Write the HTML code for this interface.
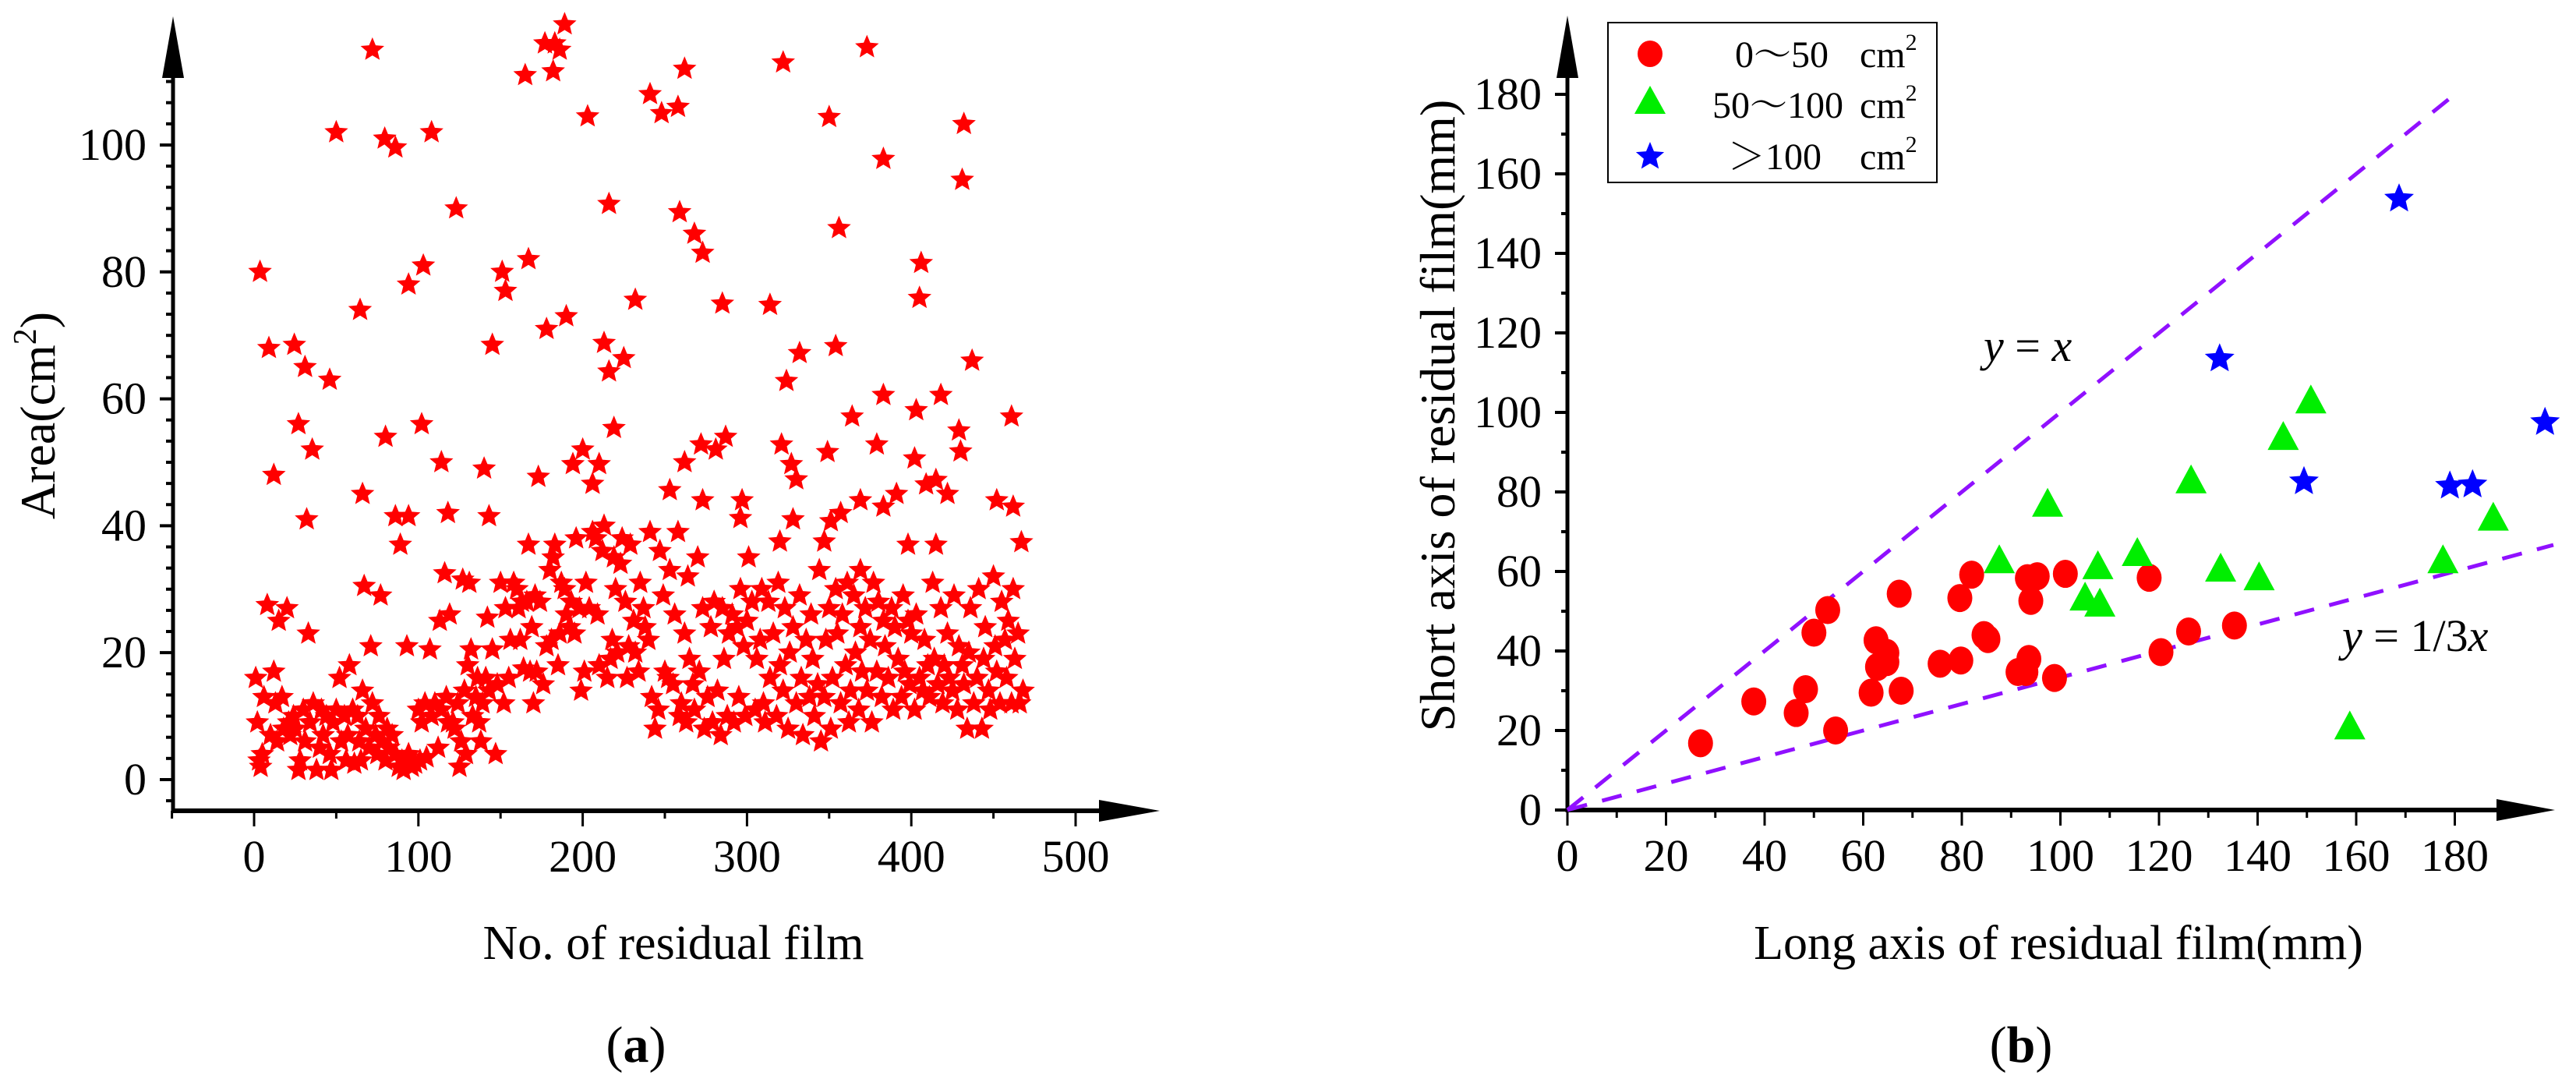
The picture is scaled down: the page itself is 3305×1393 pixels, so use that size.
<!DOCTYPE html>
<html><head><meta charset="utf-8">
<style>
html,body{margin:0;padding:0;background:#fff;}
svg{display:block;}
svg text{font-family:"Liberation Serif","Noto Serif CJK SC",serif;}
</style></head>
<body>
<svg id="fig" width="3305" height="1393" viewBox="0 0 3305 1393" xmlns="http://www.w3.org/2000/svg">
<g id="chartA"></g>
<g id="chartB"></g>
</svg>
<script>
// ---------- Chart (a) data ----------
const areaHighX=[3.6,72,50,79.5,86,108,123,103,94,64.5,9,24.5,31,46,27,35.4,12,32,66,80,102,114,118,86,94,89,140,143,145,151,153,165,167,173,178,177,183,182,186,189,190,203,216,213,216,225,232,219,210,206,194,200,241,248,258,262,259,268,273,262,273,272,281,285,287,253,322,314,324,332,321,327,330,350,373,354,356,349,364,383,383,379,406,405,403,402,418,432,431,437,429,430,461,452,462,409,415,422,391,383,369,357,351,328,296,297,320,347,369,398,415,467];
const areaHighY=[80,115,102,101,99.6,102,90,81,78,74,68,68.5,65,63,56,52,48,41,45,54,56,50,42,41.5,41.5,37,49,41.5,68.5,80,77,111,82,47.7,71,116,116,111.6,115,119,73,104.5,90.7,68.8,64.3,66.4,75.6,55.4,49.7,46.6,49.7,52,108,105,106,112,89.4,86,83,50,44,52.8,52,75,54,45.6,113,74.8,62.8,67.2,52.8,49.7,47.3,104.4,115.4,68.3,86.9,51.6,57.2,97.8,60.6,52.8,81.4,75.9,58.2,50.6,60.6,103.3,94.5,66,55,51.7,57.2,44,43,46.5,47.2,45,45,43,44,42,40.7,41,41.2,44,37.5,37.5,33,37,37,37.4];
const areaLowX=[1,2,3,4,5,6,8,10,12,13,14,15,17,18,20,21,22,24,25,27,28,30,31,33,34,36,38,40,41,42,44,46,47,48,50,52,53,55,56,57,58,60,61,63,64,65,66,67,68,70,71,72,74,75,76,77,78,80,81,82,84,86,88,90,91,93,94,96,98,100,101,102,104,105,107,108,110,112,113,114,116,117,118,119,121,122,124,125,126,127,128,129,130,131,132,133,135,136,137,138,139,141,142,143,145,147,148,150,152,153,155,156,158,160,161,162,163,164,166,167,168,169,170,171,172,174,176,178,180,181,182,183,185,186,187,189,190,192,193,195,196,198,199,201,202,204,206,208,209,210,212,213,215,217,218,219,220,221,223,224,226,227,228,229,231,232,234,235,237,238,240,241,242,244,246,247,249,250,252,253,255,256,258,259,260,262,263,264,265,267,268,270,271,273,274,276,278,279,280,282,284,285,286,288,289,291,292,294,295,296,298,299,300,301,303,305,306,308,309,310,311,313,314,316,318,319,320,322,323,325,326,328,330,332,333,334,336,338,339,340,341,343,344,345,347,348,350,351,352,354,355,357,358,360,361,362,363,365,366,368,369,370,372,373,375,376,377,379,380,382,383,384,386,388,389,390,392,394,395,396,398,399,400,402,403,405,407,408,410,411,413,414,416,418,419,420,422,423,425,426,428,429,431,432,434,435,436,438,440,441,443,444,445,447,448,450,451,452,454,455,457,458,459,461,462,463,465,466,468];
const areaLowY=[16,9,3,2,4,13,27.5,7,17,12,6,25,13,8,27,9,7,10,8,1.5,3,11,6,23,9,12,1.5,5,11,7,10,4,1.5,9,11,16,6,10,3,7,18,11,2.5,10,6,3,14,30.5,8,5,21,12,7,4,10,29,6,3,8,5,7,4,2,3,1.5,21,4,2,2.5,11,3,9,12,3.5,20.5,10,12,5,25,11,32.5,13,9,26,9,8,12,2,6,31.5,14,4,18,31,20.5,10,13,16,9,6,12,16,25.5,14,20.5,4,15,31,12,27,16,22,31,30,27,22,28,17.5,28,37,17,24,12,29,17,28,15,21,33,22,35,37,18,23,31,30,26,24,28,23,38,27,14,17,31,27,39,38,26,18,36,40,16,19,22,35,30,20,34,38,28,16,21,37,25,20,17,31,27,24,22,39,13,8,11,36,29,17,16,33,15,26,39,10,12,23,9,32,19,15,11,35,17,27,8,13,24,9,28,14,7,27,19,10,23,26,9,24,13,30,21,10,25,35,28,11,19,22,30,12,9,28,16,23,10,31,18,14,27,8,20,24,12,29,16,7,22,13,26,19,10,15,33,6,13,22,27,8,16,30,23,12,26,18,31,9,14,29,20,11,24,17,27,14,22,9,31,17,28,13,25,21,16,27,11,24,19,13,29,17,25,15,23,11,26,16,14,22,18,13,31,19,15,27,12,18,23,16,14,29,11,21,18,15,8,20,27,12,16,30,8,19,24,14,11,32,21,17,12,28,22,16,25,12,30,19,23,12,14];
const aXTicks=[0,100,200,300,400,500];
const aYTicks=[0,20,40,60,80,100];

// ---------- Chart (b) data ----------
const smallLong=[27,37.8,46.4,48.3,50,52.8,54.4,61.6,62.6,62.9,64.8,64.8,67.3,67.7,75.6,79.8,79.6,82,84.5,85.3,91.4,93,93.6,94,93.3,95.3,98.8,101,118,120.4,126,135.3];
const smallShort=[16.8,27.3,24.4,30.4,44.6,50.3,20,29.5,42.7,36,39.5,37.2,54.4,30,36.8,37.6,53.3,59.2,44,43,34.7,34.7,38,52.6,58.3,58.8,33.2,59.4,58.4,39.7,44.9,46.4];
const midLong=[87.6,97.4,105,107.6,108,115.6,126.5,132.5,140.3,145.2,150.8,158.7,177.6,187.8];
const midShort=[62.7,76.9,53.3,61.2,51.8,64.5,82.8,60.6,58.4,93.7,102.9,20.9,62.7,73.4];
const bigLong=[132.3,149.4,168.7,179,183.6,198.3];
const bigShort=[113.5,82.6,153.7,81.5,81.8,97.5];
const bXTicks=[0,20,40,60,80,100,120,140,160,180];
const bYTicks=[0,20,40,60,80,100,120,140,160,180];

const NS="http://www.w3.org/2000/svg";
const SERIF='"Liberation Serif","Noto Serif CJK SC",serif';
function mk(parent,tag,attrs){const e=document.createElementNS(NS,tag);for(const k in attrs)e.setAttribute(k,attrs[k]);if(tag==='text')e.setAttribute('font-family',SERIF);parent.appendChild(e);return e;}
function starPts(cx,cy,R){const r=R*0.45;let p=[];for(let i=0;i<10;i++){const a=-Math.PI/2+i*Math.PI/5;const rr=i%2?r:R;p.push((cx+rr*Math.cos(a)).toFixed(1)+","+(cy+rr*Math.sin(a)).toFixed(1));}return p.join(" ");}

// ---------- Chart (a) ----------
const A=document.getElementById('chartA');
const xA=v=>326+v*2.108;
const yA=v=>1000-v*8.14;
let g=mk(A,'g',{});


let e=mk(g,'line',{x1:222,y1:1042,x2:222,y2:96,stroke:'#000','stroke-width':5});
e=mk(g,'polygon',{points:'208,100 236,100 222,21',fill:'#000'});
for(let v=-3.33;v<=112;v+=20/6){const y=yA(v);const maj=Math.abs(Math.round(v/20)*20-v)<0.1;
 e=mk(g,'line',{x1:maj?205:213,y1:y,x2:222,y2:y,stroke:'#000','stroke-width':4});}
aYTicks.forEach(t=>{e=mk(g,'text',{x:188,y:yA(t)+19,'text-anchor':'end','font-size':58,fill:'#000'});e.textContent=t;
 
 });
g=mk(A,'g',{});


e=mk(g,'line',{x1:220,y1:1040,x2:1420,y2:1040,stroke:'#000','stroke-width':6});
e=mk(g,'polygon',{points:'1410,1026 1410,1054 1488,1040',fill:'#000'});
for(let v=-50;v<=500;v+=50){const x=xA(v);const maj=v%100===0;
 e=mk(g,'line',{x1:x,y1:1040,x2:x,y2:maj?1060:1050,stroke:'#000','stroke-width':3});}
aXTicks.forEach(t=>{e=mk(g,'text',{x:xA(t),y:1118,'text-anchor':'middle','font-size':58,fill:'#000'});e.textContent=t;
 
 });
g=mk(A,'g',{fill:'#ff0000'});


function drawA(xs,ys){for(let i=0;i<xs.length;i++){e=mk(g,'polygon',{points:starPts(xA(xs[i]),yA(ys[i]),16)});
 
 }}
drawA(areaLowX,areaLowY);drawA(areaHighX,areaHighY);
e=mk(A,'text',{x:0,y:0,'font-size':64,fill:'#000','text-anchor':'middle',transform:'translate(70,533) rotate(-90)'});
e.innerHTML='Area(cm<tspan font-size="42" dy="-24">2</tspan><tspan dy="24">)</tspan>';


e=mk(A,'text',{x:864,y:1230,'font-size':62,fill:'#000','text-anchor':'middle'});e.textContent='No. of residual film';


e=mk(A,'text',{x:816,y:1362,'font-size':66,fill:'#000','text-anchor':'middle'});e.innerHTML='(<tspan font-weight="bold">a</tspan>)';



// ---------- Chart (b) ----------
const B=document.getElementById('chartB');
const xB=v=>2011+v*6.325;
const yB=v=>1039-v*5.1;
g=mk(B,'g',{});


e=mk(g,'line',{x1:2011,y1:1042,x2:2011,y2:96,stroke:'#000','stroke-width':5});
e=mk(g,'polygon',{points:'1997,100 2025,100 2011,20',fill:'#000'});
for(let v=0;v<=180;v+=10){const y=yB(v);const maj=v%20===0;
 e=mk(g,'line',{x1:maj?1995:2003,y1:y,x2:2011,y2:y,stroke:'#000','stroke-width':4});}
bYTicks.forEach(t=>{e=mk(g,'text',{x:1978,y:yB(t)+19,'text-anchor':'end','font-size':58,fill:'#000'});e.textContent=t;
 
 });
g=mk(B,'g',{});


e=mk(g,'line',{x1:2009,y1:1039,x2:3210,y2:1039,stroke:'#000','stroke-width':6});
e=mk(g,'polygon',{points:'3203,1025 3203,1053 3278,1039',fill:'#000'});
for(let v=0;v<=190;v+=10){const x=xB(v);const maj=v%20===0;
 e=mk(g,'line',{x1:x,y1:1039,x2:x,y2:maj?1059:1049,stroke:'#000','stroke-width':3});}
bXTicks.forEach(t=>{e=mk(g,'text',{x:xB(t),y:1117,'text-anchor':'middle','font-size':58,fill:'#000'});e.textContent=t;
 
 });
e=mk(B,'line',{x1:xB(0),y1:yB(0),x2:xB(180),y2:yB(180),stroke:'#9010ff','stroke-width':5,'stroke-dasharray':'26 20'});


e=mk(B,'line',{x1:xB(0),y1:yB(0),x2:xB(200),y2:yB(200/3),stroke:'#9010ff','stroke-width':5,'stroke-dasharray':'26 20'});


g=mk(B,'g',{fill:'#ff0000'});


for(let i=0;i<smallLong.length;i++){e=mk(g,'ellipse',{cx:xB(smallLong[i]),cy:yB(smallShort[i]),rx:16,ry:18});
 
 }
g=mk(B,'g',{fill:'#00ee00'});


for(let i=0;i<midLong.length;i++){const x=xB(midLong[i]),y=yB(midShort[i]);
 e=mk(g,'polygon',{points:`${x-20},${y+16} ${x+20},${y+16} ${x},${y-21}`});
 
 }
g=mk(B,'g',{fill:'#0000ff'});


for(let i=0;i<bigLong.length;i++){e=mk(g,'polygon',{points:starPts(xB(bigLong[i]),yB(bigShort[i]),20)});
 
 }
e=mk(B,'text',{x:2545,y:463,'font-size':58,'font-style':'italic',fill:'#000'});e.innerHTML='y <tspan font-style="normal">=</tspan> x';


e=mk(B,'text',{x:3005,y:835,'font-size':58,'font-style':'italic',fill:'#000'});e.innerHTML='y <tspan font-style="normal">= 1/3</tspan>x';


// legend
g=mk(B,'g',{});


e=mk(g,'rect',{x:2063,y:29,width:422,height:205,fill:'#fff',stroke:'#000','stroke-width':2});
e=mk(g,'ellipse',{cx:2117,cy:69,rx:16,ry:17,fill:'#ff0000'});


e=mk(g,'polygon',{points:'2097,146 2137,146 2117,110',fill:'#00ee00'});


e=mk(g,'polygon',{points:starPts(2117,201,19),fill:'#0000ff'});


const legTxt=[['0～50',2226,86],['50～100',2197,151],['＞100',2217,217]];
const legNames=['legend-entry-small','legend-entry-medium','legend-entry-large'];
legTxt.forEach((l,i)=>{e=mk(g,'text',{x:l[1],y:l[2],'font-size':48,fill:'#000'});
 e.innerHTML=l[0]+'<tspan x="2386">cm</tspan><tspan font-size="30" dy="-22">2</tspan>';
 
 });
e=mk(B,'text',{x:0,y:0,'font-size':64,fill:'#000','text-anchor':'middle',transform:'translate(1866,533) rotate(-90)'});
e.textContent='Short axis of residual film(mm)';


e=mk(B,'text',{x:2641,y:1230,'font-size':62,fill:'#000','text-anchor':'middle'});e.textContent='Long axis of residual film(mm)';


e=mk(B,'text',{x:2593,y:1362,'font-size':66,fill:'#000','text-anchor':'middle'});e.innerHTML='(<tspan font-weight="bold">b</tspan>)';


</script>
</body></html>
